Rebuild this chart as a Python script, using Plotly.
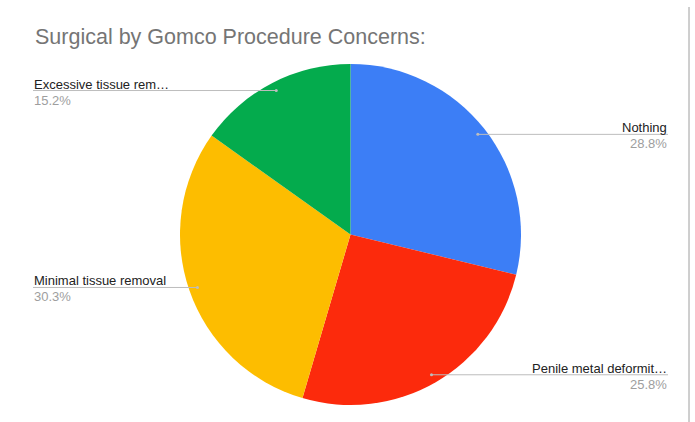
import math
import plotly.graph_objects as go

# ---- data ----
labels = ["Nothing", "Penile metal deformit…", "Minimal tissue removal", "Excessive tissue rem…"]
counts = [19, 17, 20, 10]
colors = ["#3c7ef6", "#fc2a0c", "#fdbd00", "#04ab4d"]
title = "Surgical by Gomco Procedure Concerns:"

# ---- layout constants (pixels) ----
W, H = 695, 422
CX, CY, R = 350.5, 234.5, 170.5
LEFT_X, RIGHT_X = 33, 668
FONT = "Arial, 'Liberation Sans', sans-serif"

def px(x):
    return x / W

def py(y):
    return 1 - y / H

fig = go.Figure()
fig.add_trace(go.Pie(
    labels=labels, values=counts, sort=False, direction="clockwise", rotation=0,
    marker=dict(colors=colors, line=dict(width=0)),
    textinfo="none", hoverinfo="label+percent+value", showlegend=False,
    domain=dict(x=[px(CX - R), px(CX + R)], y=[py(CY + R), py(CY - R)]),
))

total = sum(counts)
shapes = []
annotations = [dict(text=title, x=px(33), y=py(37), xref="paper", yref="paper",
                    xanchor="left", yanchor="middle", showarrow=False,
                    font=dict(family=FONT, size=21.5, color="#757575"))]
cum = 0
for lab, c in zip(labels, counts):
    mid = (cum + c / 2) / total
    cum += c
    ang = 2 * math.pi * mid
    dx = CX + 0.95 * R * math.sin(ang)
    dy = CY - 0.95 * R * math.cos(ang)
    right = math.sin(ang) > 0
    ex = RIGHT_X if right else LEFT_X
    shapes.append(dict(type="line", xref="paper", yref="paper",
                       x0=px(dx), x1=px(ex), y0=py(dy), y1=py(dy),
                       line=dict(color="#bdbdbd", width=1)))
    shapes.append(dict(type="circle", xref="paper", yref="paper",
                       x0=px(dx - 1.5), x1=px(dx + 1.5), y0=py(dy - 1.5), y1=py(dy + 1.5),
                       fillcolor="#bdbdbd", line=dict(width=0)))
    anchor = "right" if right else "left"
    annotations.append(dict(text=lab, x=px(ex), y=py(dy), xref="paper", yref="paper",
                            xanchor=anchor, yanchor="bottom", showarrow=False, yshift=-2,
                            borderpad=0, font=dict(family=FONT, size=13, color="#222222")))
    annotations.append(dict(text=f"{100 * c / total:.1f}%", x=px(ex), y=py(dy),
                            xref="paper", yref="paper", xanchor=anchor, yanchor="top",
                            showarrow=False, yshift=-1, borderpad=0,
                            font=dict(family=FONT, size=13, color="#9e9e9e")))

# right border line
shapes.append(dict(type="line", xref="paper", yref="paper", x0=px(689), x1=px(689),
                   y0=py(7), y1=py(422), line=dict(color="#9e9e9e", width=1)))

fig.update_layout(width=W, height=H, margin=dict(l=0, r=0, t=0, b=0),
                  paper_bgcolor="white", plot_bgcolor="white",
                  shapes=shapes, annotations=annotations)
fig.write_html("out.html")
